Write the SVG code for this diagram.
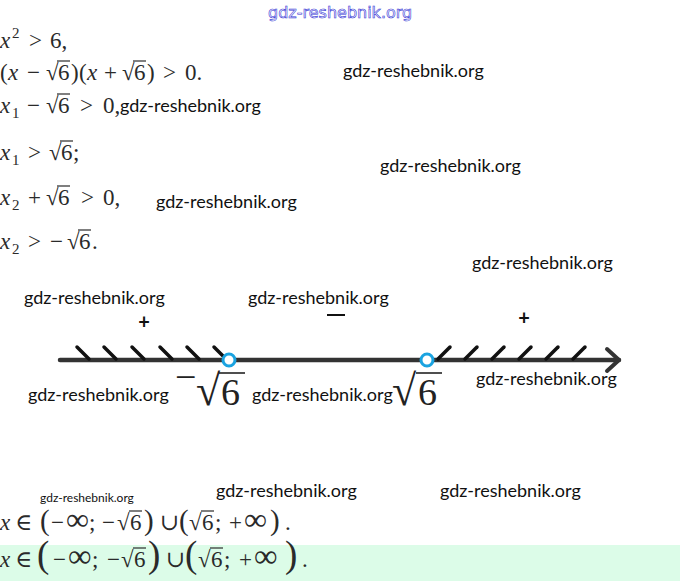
<svg xmlns="http://www.w3.org/2000/svg" width="680" height="581" viewBox="0 0 680 581">
<style>
.m{font-family:"Liberation Serif","DejaVu Serif",serif;font-size:23px;fill:#2a2a2a}
.i{font-style:italic}
.s{font-size:15px}
.bp{font-size:29px}
.bq{font-size:37px}
.big{font-family:"Liberation Serif","DejaVu Serif",serif;font-size:38px;fill:#222}
.w{font-family:Lato,"Liberation Sans",sans-serif;font-size:18px;fill:#111}
.ws{font-family:Lato,"Liberation Sans",sans-serif;font-size:12px;fill:#111}
.ov{stroke:#2a2a2a;stroke-width:1.2}
.h{stroke:#111;stroke-width:3.5;stroke-linecap:round}
.c{fill:#fff;stroke:#1aa3e0;stroke-width:3}
.pl{font-family:Lato,"Liberation Sans",sans-serif;font-size:20px;font-weight:bold;fill:#111}
</style>
<rect width="680" height="581" fill="#fff"/>
<rect x="0" y="545" width="680" height="36" fill="#dcfce8"/>
<text x="268" y="18" font-family="DejaVu Sans,sans-serif" font-size="16" fill="#fff" stroke="#3535d5" stroke-width="0.6">gdz-reshebnik.org</text>
<g id="math">
<text class="m" y="48"><tspan x="0" class="i">x</tspan><tspan x="12" y="38" class="s">2</tspan><tspan x="29" y="48">&gt;</tspan><tspan x="50">6,</tspan></text>

<text class="m" y="80"><tspan x="0">(</tspan><tspan x="8" class="i">x</tspan><tspan x="27">−</tspan><tspan x="46">√</tspan><tspan x="58">6</tspan><tspan x="71">)</tspan><tspan x="79">(</tspan><tspan x="87" class="i">x</tspan><tspan x="104">+</tspan><tspan x="122">√</tspan><tspan x="134">6</tspan><tspan x="147">)</tspan><tspan x="163">&gt;</tspan><tspan x="185">0.</tspan></text>
<line class="ov" x1="57" y1="61" x2="70" y2="61"/>
<line class="ov" x1="133" y1="61" x2="146" y2="61"/>

<text class="m" y="113"><tspan x="0" class="i">x</tspan><tspan x="12" y="118" class="s">1</tspan><tspan x="27" y="113">−</tspan><tspan x="46">√</tspan><tspan x="58">6</tspan><tspan x="80">&gt;</tspan><tspan x="103">0,</tspan></text>
<line class="ov" x1="57" y1="94" x2="70" y2="94"/>

<text class="m" y="160"><tspan x="0" class="i">x</tspan><tspan x="12" y="165" class="s">1</tspan><tspan x="28" y="160">&gt;</tspan><tspan x="49">√</tspan><tspan x="61">6</tspan><tspan x="73">;</tspan></text>
<line class="ov" x1="60" y1="141" x2="73" y2="141"/>

<text class="m" y="205"><tspan x="0" class="i">x</tspan><tspan x="12" y="210" class="s">2</tspan><tspan x="28" y="205">+</tspan><tspan x="46">√</tspan><tspan x="58">6</tspan><tspan x="81">&gt;</tspan><tspan x="103">0,</tspan></text>
<line class="ov" x1="57" y1="186" x2="70" y2="186"/>

<text class="m" y="249"><tspan x="0" class="i">x</tspan><tspan x="12" y="254" class="s">2</tspan><tspan x="28" y="249">&gt;</tspan><tspan x="50">−</tspan><tspan x="67">√</tspan><tspan x="79">6</tspan><tspan x="92">.</tspan></text>
<line class="ov" x1="78" y1="230" x2="91" y2="230"/>

<text class="m" y="530"><tspan x="0" class="i">x</tspan><tspan x="15">∈</tspan><tspan x="40" class="bp">(</tspan><tspan x="51">−</tspan><tspan x="66" style="font-size:32px">∞</tspan><tspan x="89">;</tspan><tspan x="102">−</tspan><tspan x="117">√</tspan><tspan x="130">6</tspan><tspan x="144" class="bp">)</tspan><tspan x="160">∪</tspan><tspan x="179" class="bp">(</tspan><tspan x="189">√</tspan><tspan x="202">6</tspan><tspan x="215">;</tspan><tspan x="229">+</tspan><tspan x="244" style="font-size:32px">∞</tspan><tspan x="270" class="bp">)</tspan><tspan x="285">.</tspan></text>
<line class="ov" x1="129" y1="511" x2="142" y2="511"/>
<line class="ov" x1="201" y1="511" x2="214" y2="511"/>

<text class="m" y="567"><tspan x="0" class="i">x</tspan><tspan x="15">∈</tspan><tspan x="37" class="bq">(</tspan><tspan x="53">−</tspan><tspan x="68" style="font-size:33px">∞</tspan><tspan x="92">;</tspan><tspan x="107">−</tspan><tspan x="121">√</tspan><tspan x="134">6</tspan><tspan x="148" class="bq">)</tspan><tspan x="166">∪</tspan><tspan x="185" class="bq">(</tspan><tspan x="198">√</tspan><tspan x="211">6</tspan><tspan x="224">;</tspan><tspan x="239">+</tspan><tspan x="254" style="font-size:33px">∞</tspan><tspan x="285" class="bq">)</tspan><tspan x="302">.</tspan></text>
<line class="ov" x1="133" y1="548" x2="146" y2="548"/>
<line class="ov" x1="210" y1="548" x2="223" y2="548"/>
</g>
<g id="watermarks">
<text class="w" x="120" y="112">gdz-reshebnik.org</text>
<text class="w" x="343" y="77">gdz-reshebnik.org</text>
<text class="w" x="380" y="172">gdz-reshebnik.org</text>
<text class="w" x="156" y="208">gdz-reshebnik.org</text>
<text class="w" x="472" y="269">gdz-reshebnik.org</text>
<text class="w" x="24" y="304">gdz-reshebnik.org</text>
<text class="w" x="248" y="304">gdz-reshebnik.org</text>
<text class="w" x="28" y="401">gdz-reshebnik.org</text>
<text class="w" x="252" y="401">gdz-reshebnik.org</text>
<text class="w" x="476" y="385">gdz-reshebnik.org</text>
<text class="w" x="216" y="497">gdz-reshebnik.org</text>
<text class="w" x="440" y="497">gdz-reshebnik.org</text>
<text class="ws" x="40" y="502">gdz-reshebnik.org</text>
</g>
<g id="axis">
<line x1="60" y1="360" x2="619" y2="360" stroke="#333" stroke-width="4.5" stroke-linecap="round"/>
<polyline points="607,349 619,360 607,371" fill="none" stroke="#333" stroke-width="4" stroke-linecap="round" stroke-linejoin="round"/>
<g id="hatch-left">
<line class="h" x1="77" y1="347" x2="89" y2="359"/>
<line class="h" x1="104" y1="347" x2="116" y2="359"/>
<line class="h" x1="132" y1="347" x2="144" y2="359"/>
<line class="h" x1="160" y1="347" x2="172" y2="359"/>
<line class="h" x1="187" y1="347" x2="199" y2="359"/>
<line class="h" x1="214" y1="347" x2="226" y2="359"/>
</g>
<g id="hatch-right">
<line class="h" x1="438" y1="359" x2="450" y2="347"/>
<line class="h" x1="465" y1="359" x2="477" y2="347"/>
<line class="h" x1="492" y1="359" x2="504" y2="347"/>
<line class="h" x1="519" y1="359" x2="531" y2="347"/>
<line class="h" x1="546" y1="359" x2="558" y2="347"/>
<line class="h" x1="573" y1="359" x2="585" y2="347"/>
</g>
<circle id="p1" class="c" cx="229" cy="360" r="6"/>
<circle id="p2" class="c" cx="427" cy="360" r="6"/>
<text class="pl" x="144" y="329" text-anchor="middle">+</text>
<line x1="327" y1="315" x2="345" y2="315" stroke="#111" stroke-width="2"/>
<text class="pl" x="524" y="325" text-anchor="middle">+</text>
<text class="big" x="175" y="390">−</text>
<text class="big" x="196" y="405" style="font-size:44px">√</text>
<text class="big" x="221" y="405">6</text>
<line x1="219" y1="373" x2="245" y2="373" stroke="#222" stroke-width="1.6"/>
<text class="big" x="392" y="405" style="font-size:44px">√</text>
<text class="big" x="418" y="405">6</text>
<line x1="416" y1="373" x2="442" y2="373" stroke="#222" stroke-width="1.6"/>
</g>
</svg>
